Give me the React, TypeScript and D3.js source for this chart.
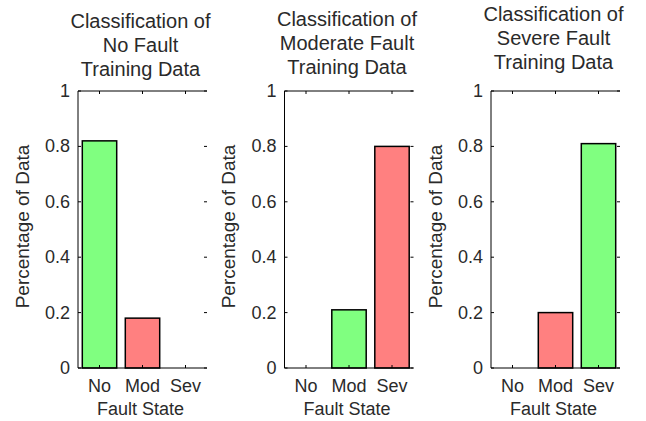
import React from "react";
import * as d3 from "d3";

const categories = ["No", "Mod", "Sev"];
const noFaultValues = [0.82, 0.18, 0];
const moderateValues = [0, 0.21, 0.8];
const severeValues = [0, 0.2, 0.81];
const noFaultKinds = ["correct", "wrong", "wrong"];
const moderateKinds = ["wrong", "correct", "wrong"];
const severeKinds = ["wrong", "wrong", "correct"];
const titleLines = [
  ["Classification of", "No Fault", "Training Data"],
  ["Classification of", "Moderate Fault", "Training Data"],
  ["Classification of", "Severe Fault", "Training Data"],
];
const yTicks = [0, 0.2, 0.4, 0.6, 0.8, 1];
const yTickLabels = ["0", "0.2", "0.4", "0.6", "0.8", "1"];
const xLabel = "Fault State";
const yLabel = "Percentage of Data";

const panels = [
  { values: noFaultValues, kinds: noFaultKinds, title: titleLines[0] },
  { values: moderateValues, kinds: moderateKinds, title: titleLines[1] },
  { values: severeValues, kinds: severeKinds, title: titleLines[2] },
];

const W = 646;
const H = 421;
const lefts = [78, 284.5, 491];
const titleOffsets = [0, -2, -7];
const axW = 129;
const top = 91;
const bottom = 368;
const font = "'Liberation Sans', Arial, sans-serif";
const colors: Record<string, string> = { correct: "#80ff80", wrong: "#ff8080" };
const textColor = "#2a2a2a";

function Panel({ idx }: { idx: number }) {
  const p = panels[idx];
  const left = lefts[idx];
  const x = d3.scaleLinear().domain([0.5, 3.5]).range([left, left + axW]);
  const y = d3.scaleLinear().domain([0, 1]).range([bottom, top]);
  const bw = x(1.8) - x(1);
  const cx = (left + left + axW) / 2;
  const tl = 3;
  return (
    <g>
      {p.values.map((v, i) =>
        v > 0 ? (
          <rect
            key={i}
            x={x(i + 1) - bw / 2}
            y={y(v)}
            width={bw}
            height={y(0) - y(v)}
            fill={colors[p.kinds[i]]}
            stroke="#000"
            strokeWidth={1.5}
          />
        ) : null
      )}
      <line x1={x(0.5)} x2={x(0.5)} y1={y(0)} y2={y(1)} stroke="#000" strokeWidth={1} />
      <line x1={x(0.5)} x2={x(3.5)} y1={y(0)} y2={y(0)} stroke="#000" strokeWidth={1} />
      <line x1={x(0.5)} x2={x(3.5)} y1={y(1)} y2={y(1)} stroke="#000" strokeWidth={1} />
      {categories.map((c, i) => (
        <g key={c}>
          <line x1={x(i + 1)} x2={x(i + 1)} y1={y(0)} y2={y(0) - tl} stroke="#000" strokeWidth={1} />
          <line x1={x(i + 1)} x2={x(i + 1)} y1={y(1)} y2={y(1) + tl} stroke="#000" strokeWidth={1} />
          <text
            x={x(i + 1)}
            y={392}
            textAnchor="middle"
            fontFamily={font}
            fontSize={18}
            fill={textColor}
          >
            {c}
          </text>
        </g>
      ))}
      {yTicks.map((t, i) => (
        <g key={t}>
          <line x1={x(0.5)} x2={x(0.5) + tl} y1={y(t)} y2={y(t)} stroke="#000" strokeWidth={1} />
          <line x1={x(3.5)} x2={x(3.5) - tl} y1={y(t)} y2={y(t)} stroke="#000" strokeWidth={1} />
          <text
            x={x(0.5) - 8}
            y={y(t)}
            textAnchor="end"
            dominantBaseline="central"
            fontFamily={font}
            fontSize={18}
            fill={textColor}
          >
            {yTickLabels[i]}
          </text>
        </g>
      ))}
      <text x={cx - 2} y={415} textAnchor="middle" fontFamily={font} fontSize={18} fill={textColor}>
        {xLabel}
      </text>
      <text
        transform={`translate(${left - 56},${(top + bottom) / 2 - 3}) rotate(-90)`}
        textAnchor="middle"
        dominantBaseline="central"
        fontFamily={font}
        fontSize={19}
        fill={textColor}
      >
        {yLabel}
      </text>
      {p.title.map((line, i) => (
        <text
          key={i}
          x={cx - 2}
          y={28 + i * 24 + titleOffsets[idx]}
          textAnchor="middle"
          fontFamily={font}
          fontSize={20}
          fill={textColor}
        >
          {line}
        </text>
      ))}
    </g>
  );
}

export default function App() {
  return (
    <svg
      width={W}
      height={H}
      style={{ position: "absolute", left: 0, top: 0, background: "#fff" }}
    >
      <rect x={0} y={0} width={W} height={H} fill="#fff" />
      {panels.map((_, i) => (
        <Panel key={i} idx={i} />
      ))}
    </svg>
  );
}
